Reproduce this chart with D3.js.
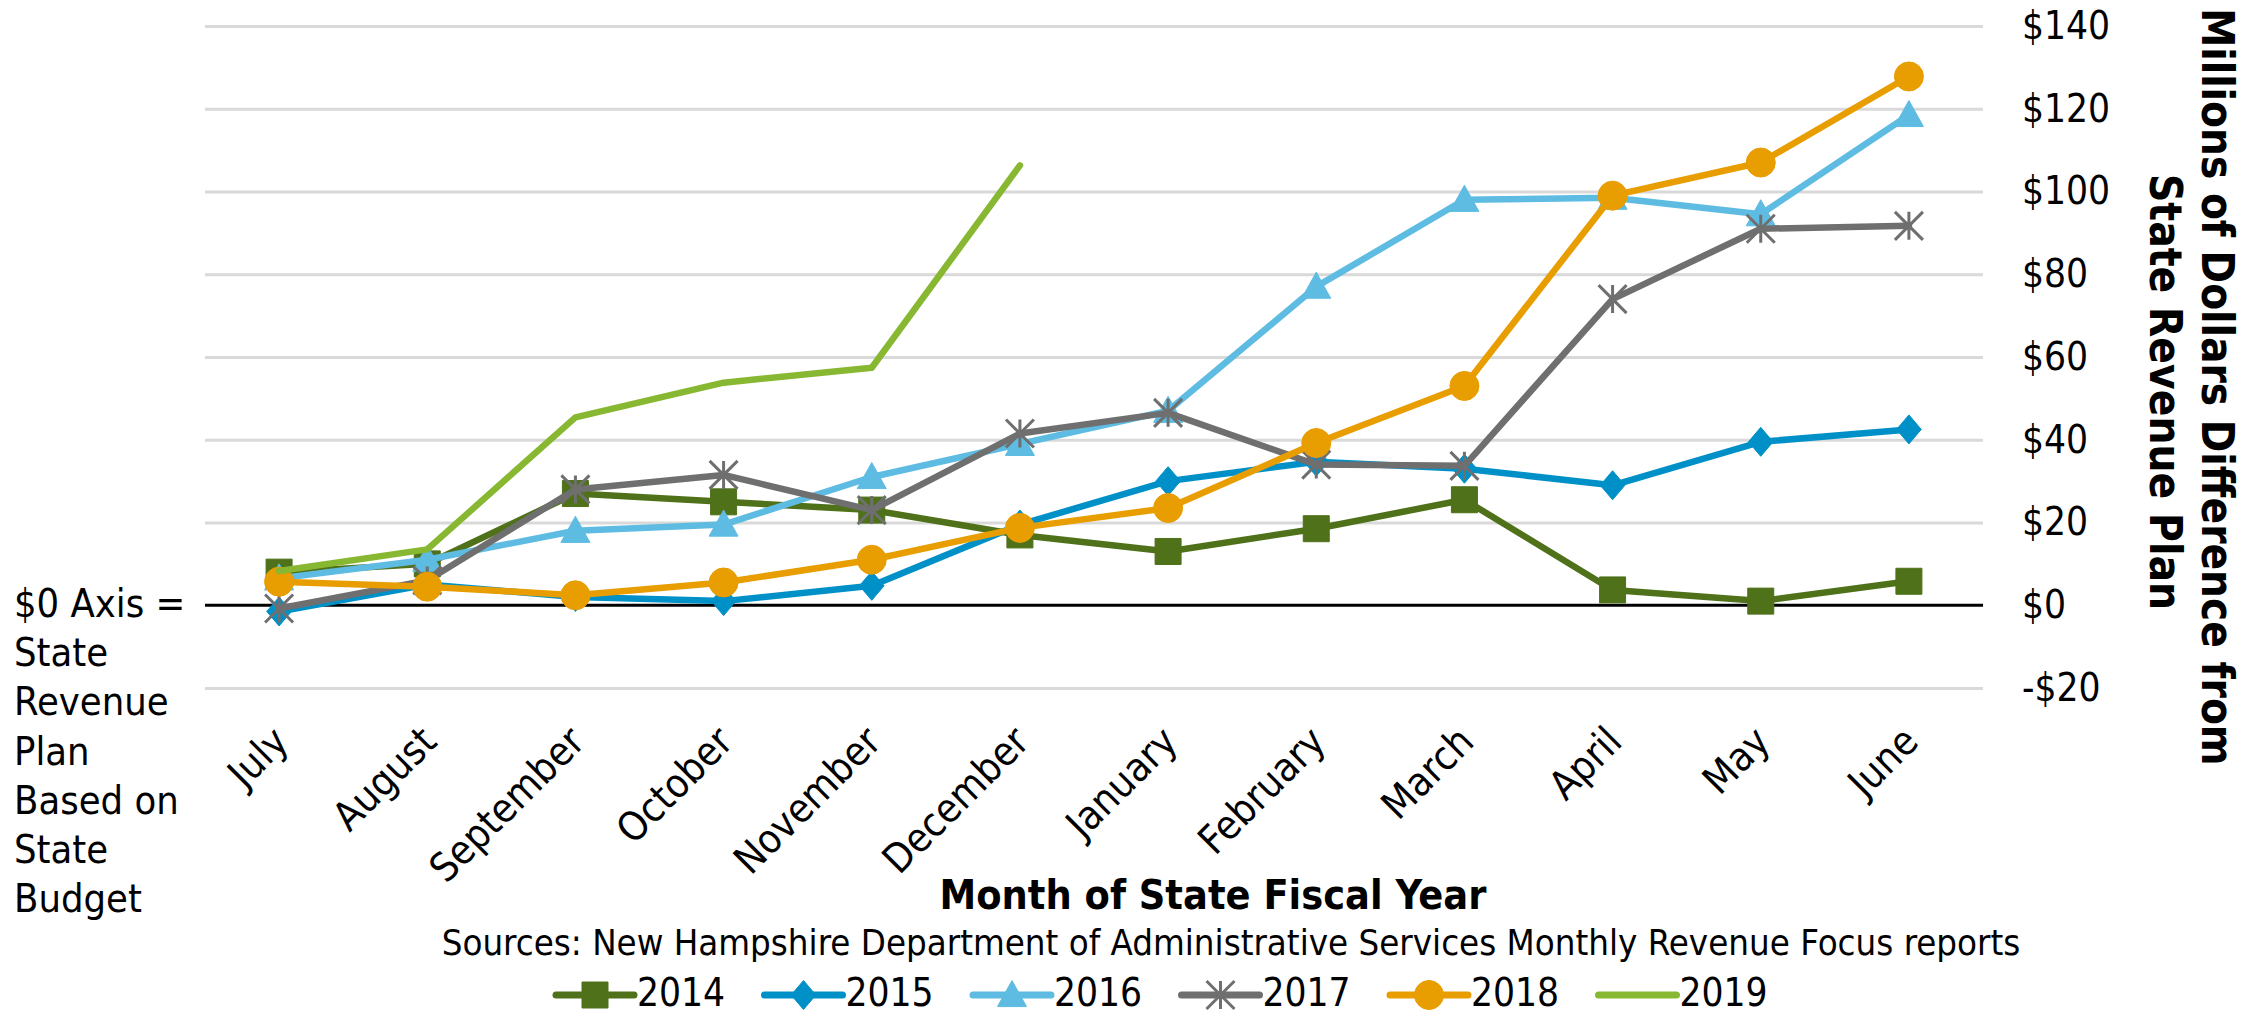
<!DOCTYPE html>
<html>
<head>
<meta charset="utf-8">
<script src="https://cdn.jsdelivr.net/npm/d3@7"></script>
<style>
  html, body { margin: 0; padding: 0; background: #ffffff; }
  svg { display: block; }
  text { font-family: "DejaVu Sans Condensed", "DejaVu Sans", sans-serif; font-stretch: condensed; fill: #000; }
</style>
</head>
<body>
<svg id="chart" width="2261" height="1014"></svg>
<script>
// ---- Data ----
const months = ["July", "August", "September", "October", "November", "December",
                "January", "February", "March", "April", "May", "June"];
const years = ["2014", "2015", "2016", "2017", "2018", "2019"];
const s2014 = [8, 10, 27, 25, 23, 17, 13, 18.5, 25.5, 3.7, 1, 5.8];
const s2015 = [-1.5, 5, 2, 1, 4.7, 19.5, 30, 34.7, 33, 29, 39.5, 42.5];
const s2016 = [6.5, 11, 18, 19.5, 31, 39, 47, 77, 98, 98.5, 94.5, 118.5];
const s2017 = [-0.8, 6, 28, 31.5, 23, 41.5, 46.5, 34, 33.7, 74, 91, 91.7];
const s2018 = [5.7, 4.5, 2.4, 5.5, 11, 18.7, 23.5, 39.2, 53, 99, 107, 127.8];
const s2019 = [8.3, 13.5, 45.4, 53.8, 57.4, 106.3, null, null, null, null, null, null];
const yTicks = [-20, 0, 20, 40, 60, 80, 100, 120, 140];
const leftNote = ["$0 Axis =", "State", "Revenue", "Plan", "Based on", "State", "Budget"];
const yTitle = ["Millions of Dollars Difference from", "State Revenue Plan"];
const xTitle = "Month of State Fiscal Year";
const sourceText = "Sources: New Hampshire Department of Administrative Services Monthly Revenue Focus reports";

const seriesValues = [s2014, s2015, s2016, s2017, s2018, s2019];
const colors = ["#4E7119", "#0090C8", "#5EBCE2", "#6F6F6F", "#E89D00", "#88B832"];
const markers = ["square", "diamond", "triangle", "star", "circle", "none"];

// ---- Layout ----
const svg = d3.select("#chart");
const plot = { left: 205, right: 1983, top: 26, bottom: 688 };
const FONT = "'DejaVu Sans Condensed', 'DejaVu Sans', sans-serif";

const x = d3.scalePoint().domain(months).range([plot.left, plot.right]).padding(0.5);
const y = d3.scaleLinear().domain([-20, 140]).range([plot.bottom, plot.top]);

const fmt = v => (v < 0 ? "-$" + (-v) : "$" + v);

// gridlines
const grid = svg.append("g").attr("transform", `translate(${plot.left},0)`)
  .call(d3.axisLeft(y).tickValues(yTicks.filter(t => t !== 0)).tickSize(-(plot.right - plot.left)).tickFormat(""));
grid.select(".domain").remove();
grid.selectAll(".tick line").attr("stroke", "#D9D9D9").attr("stroke-width", 3);

// zero line
svg.append("line")
  .attr("x1", plot.left).attr("x2", plot.right)
  .attr("y1", y(0)).attr("y2", y(0))
  .attr("stroke", "#000").attr("stroke-width", 3);

// right y axis labels
const yAxis = svg.append("g").attr("transform", `translate(${plot.right},0)`)
  .call(d3.axisRight(y).tickValues(yTicks).tickSize(0).tickPadding(39).tickFormat(fmt));
yAxis.select(".domain").remove();
yAxis.selectAll("text").attr("font-size", 38.5).attr("fill", "#000").style("font-family", FONT);

// x axis labels (rotated)
const xAxis = svg.append("g").attr("transform", `translate(0,${plot.bottom})`)
  .call(d3.axisBottom(x).tickSize(0).tickPadding(0));
xAxis.select(".domain").remove();
xAxis.selectAll(".tick text")
  .attr("font-size", 40).attr("fill", "#000")
  .style("font-family", FONT)
  .attr("text-anchor", "end")
  .attr("x", 0).attr("y", 0).attr("dy", "0.35em")
  .attr("transform", "translate(1,46) rotate(-45)");

// series
const line = d3.line()
  .defined(d => d != null)
  .x((d, i) => x(months[i]))
  .y(d => y(d));

function markerPath(type, size) {
  const s = size / 2;
  switch (type) {
    case "square": return `M${-s},${-s}H${s}V${s}H${-s}Z`;
    case "diamond": return `M0,${-s}L${s * 0.85},0L0,${s}L${-s * 0.85},0Z`;
    case "triangle": return `M0,${-s}L${s},${s * 0.8}L${-s},${s * 0.8}Z`;
    case "circle": return d3.symbol(d3.symbolCircle, Math.PI * s * s)();
    case "star": return `M${-s},${-s}L${s},${s}M${-s},${s}L${s},${-s}M0,${-s}V${s}`;
    default: return "";
  }
}
const markerSize = { square: 26, diamond: 29, triangle: 29, circle: 29, star: 28 };

function drawMarker(g, type, color, cx, cy) {
  if (type === "none") return;
  const p = g.append("path")
    .attr("d", markerPath(type, markerSize[type]))
    .attr("transform", `translate(${cx},${cy})`);
  if (type === "star") {
    p.attr("fill", "none").attr("stroke", color).attr("stroke-width", 3);
  } else {
    p.attr("fill", color).attr("stroke", color).attr("stroke-width", 1);
  }
}

const seriesG = svg.append("g");
seriesValues.forEach((vals, si) => {
  const g = seriesG.append("g");
  g.append("path")
    .datum(vals)
    .attr("d", line)
    .attr("fill", "none")
    .attr("stroke", colors[si])
    .attr("stroke-width", 6.5)
    .attr("stroke-linejoin", "round")
    .attr("stroke-linecap", "round");
  vals.forEach((v, i) => {
    if (v == null) return;
    drawMarker(g, markers[si], colors[si], x(months[i]), y(v));
  });
});

// left note
const note = svg.append("text").attr("x", 14).attr("y", 617).attr("font-size", 39.5);
leftNote.forEach((t, i) => {
  note.append("tspan").attr("x", 14).attr("y", 617 + i * 49.2).text(t);
});

// y axis title (rotated)
svg.append("text")
  .attr("transform", "translate(2217,387) rotate(90)")
  .attr("text-anchor", "middle").attr("dy", "0.35em")
  .attr("font-size", 43.6).attr("font-weight", "bold")
  .text(yTitle[0]);
svg.append("text")
  .attr("transform", "translate(2165,392) rotate(90)")
  .attr("text-anchor", "middle").attr("dy", "0.35em")
  .attr("font-size", 43.8).attr("font-weight", "bold")
  .text(yTitle[1]);

// x axis title
svg.append("text")
  .attr("x", 1213).attr("y", 909)
  .attr("text-anchor", "middle")
  .attr("font-size", 41).attr("font-weight", "bold")
  .text(xTitle);

// source
svg.append("text")
  .attr("x", 1231).attr("y", 955)
  .attr("text-anchor", "middle")
  .attr("font-size", 36.3)
  .text(sourceText);

// legend
const legendX = d3.scalePoint().domain(years).range([556, 556 + 208.5 * 5]);
const legend = svg.append("g");
years.forEach((yr, i) => {
  const lx = legendX(yr);
  const ly = 995;
  const g = legend.append("g");
  g.append("line")
    .attr("x1", lx).attr("x2", lx + 78)
    .attr("y1", ly).attr("y2", ly)
    .attr("stroke", colors[i]).attr("stroke-width", 7)
    .attr("stroke-linecap", "round");
  drawMarker(g, markers[i], colors[i], lx + 39, ly);
  g.append("text")
    .attr("x", lx + 81).attr("y", 1006)
    .attr("font-size", 38.5)
    .text(yr);
});
</script>
</body>
</html>
